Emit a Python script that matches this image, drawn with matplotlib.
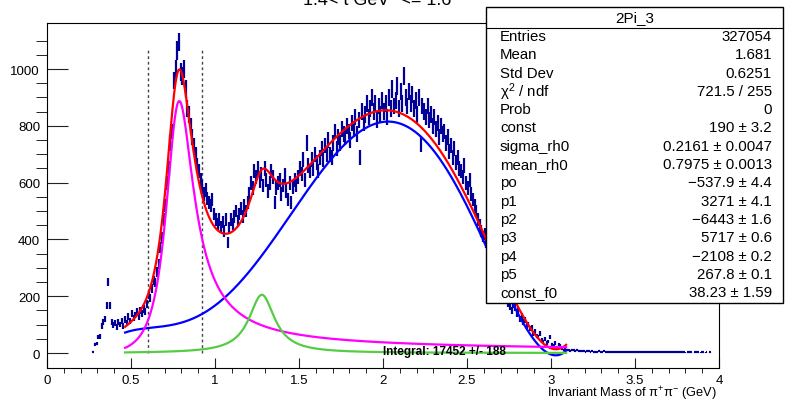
import numpy as np
import matplotlib
matplotlib.use("Agg")
import matplotlib.pyplot as plt
from matplotlib.patches import Rectangle
from matplotlib.lines import Line2D

plt.rcParams['font.family'] = ['Liberation Sans', 'DejaVu Sans']
plt.rcParams['mathtext.fontset'] = 'custom'
plt.rcParams['mathtext.rm'] = 'Liberation Sans'
plt.rcParams['mathtext.it'] = 'Liberation Sans:italic'

# pi+pi- invariant mass histogram, 0.01 GeV bins starting at 0.27 GeV
bin_lo = 0.27
bin_w = 0.01
counts = [
    5, 30, 33, 55, 58, 95, 110, 120, 168, 250,
    168, 110, 98, 105, 92, 108, 100, 112, 95, 118,
    105, 128, 112, 138, 122, 134, 145, 128, 150, 138,
    155, 145, 172, 205, 195, 228, 255, 248, 285, 315,
    372, 405, 470, 520, 600, 650, 740, 780, 960, 1000,
    1065, 1095, 990, 975, 1000, 930, 860, 840, 800, 760,
    730, 700, 660, 640, 610, 585, 560, 575, 545, 530,
    520, 540, 490, 470, 455, 470, 445, 460, 430, 470,
    390, 440, 470, 455, 480, 500, 465, 490, 510, 480,
    520, 500, 530, 560, 600, 580, 640, 620, 650, 605,
    630, 590, 650, 610, 570, 600, 640, 620, 530, 580,
    600, 610, 560, 590, 625, 570, 540, 600, 530, 585,
    610, 590, 620, 650, 630, 680, 610, 740, 660, 640,
    680, 650, 700, 670, 640, 690, 720, 680, 730, 700,
    750, 700, 690, 740, 780, 720, 760, 740, 790, 770,
    760, 800, 780, 750, 810, 790, 830, 770, 820, 690,
    850, 810, 840, 880, 830, 860, 900, 850, 880, 820,
    870, 840, 890, 850, 880, 830, 900, 860, 930, 870,
    890, 940, 860, 920, 880, 975, 900, 870, 920, 880,
    910, 860, 890, 840, 900, 735, 870, 850, 830, 870,
    820, 840, 800, 830, 790, 810, 760, 800, 770, 780,
    740, 760, 710, 730, 690, 720, 670, 690, 650, 640,
    620, 660, 600, 580, 610, 560, 540, 520, 500, 470,
    450, 430, 410, 420, 390, 370, 350, 340, 320, 300,
    285, 260, 250, 225, 210, 200, 185, 175, 165, 150,
    170, 160, 140, 150, 120, 130, 110, 115, 95, 100,
    85, 90, 70, 75, 60, 55, 70, 45, 40, 50,
    35, 40, 55, 30, 25, 35, 20, 30, 25, 15,
    12, 15, 10, 12, 8, 10, 9, 7, 10, 8,
    6, 8, 7, 5, 6, 7, 5, 6, 4, 5,
    5, 6, 4, 5, 6, 4, 5, 4, 5, 4,
    4, 5, 3, 4, 5, 3, 4, 3, 4, 3,
    3, 4, 3, 3, 4, 2, 3, 4, 3, 3,
    3, 2, 3, 3, 2, 3, 3, 2, 3, 2,
    3, 2, 2, 3, 2, 3, 2, 2, 3, 2,
    2, 3, 2, 0, 2, 3, 2, 0, 2, 3,
    2, 0, 3, 2, 0, 2, 0, 3, 0, 0,
]

# fit results (p4 kept within its printed rounding)
const_rho = 190.0
sigma_rh0 = 0.2161
mean_rh0 = 0.7975
poly = [-537.9, 3271.0, -6443.0, 5717.0, -2107.75, 267.8]
const_f0 = 38.23
mass_f0 = 1.2755
width_f0 = 0.1867
fit_lo, fit_hi = 0.465, 3.09
m_pi = 0.13957

stat_names = ["Entries", "Mean", "Std Dev", "χ$^{2}$ / ndf", "Prob", "const",
              "sigma_rh0", "mean_rh0", "po", "p1", "p2", "p3", "p4", "p5",
              "const_f0"]
stat_values = ["327054", "1.681", "0.6251", "721.5 / 255", "0",
               "190 ± 3.2", "0.2161 ± 0.0047", "0.7975 ± 0.0013",
               "\u2212537.9 ± 4.4", "3271 ± 4.1", "\u22126443 ± 1.6",
               "5717 ± 0.6", "\u22122108 ± 0.2", "267.8 ± 0.1",
               "38.23 ± 1.59"]
window = [0.6, 0.92]


def rho_bw(x):
    # p-wave relativistic Breit-Wigner with mass dependent width
    q = np.sqrt(x**2 / 4 - m_pi**2)
    q0 = np.sqrt(mean_rh0**2 / 4 - m_pi**2)
    g = sigma_rh0 * (q / q0)**3 * (mean_rh0 / x)
    return const_rho * x * mean_rh0 * g / ((x**2 - mean_rh0**2)**2 + mean_rh0**2 * g**2)


def f0_bw(x):
    g = width_f0
    return const_f0 * x * mass_f0 * g / ((x**2 - mass_f0**2)**2 + mass_f0**2 * g**2)


def background(x):
    return sum(c * x**i for i, c in enumerate(poly))


W, H = 785, 402
fig = plt.figure(figsize=(W / 100, H / 100), dpi=100)
ax = fig.add_axes([47 / W, 1 - 369 / H, 672 / W, 345 / H])

counts = np.array(counts, dtype=float)
centers = bin_lo + bin_w * (np.arange(len(counts)) + 0.5)
keep = counts > 0
ax.errorbar(centers[keep], counts[keep], yerr=np.sqrt(counts[keep]), xerr=bin_w / 2,
            fmt='none', ecolor='#000099', elinewidth=1.6, capsize=0, zorder=2)

xf = np.linspace(fit_lo, fit_hi, 800)
ax.plot(xf, rho_bw(xf) + background(xf) + f0_bw(xf), color='#ff0000', lw=1.6, zorder=3)
ax.plot(xf, background(xf), color='#0000ff', lw=1.6, zorder=4)
ax.plot(xf, rho_bw(xf), color='#ff00ff', lw=1.6, zorder=4)
ax.plot(xf, f0_bw(xf), color='#55cc44', lw=1.6, zorder=4)

for xv in window:
    ax.plot([xv, xv], [0, 1068], color='#444444', lw=1, ls=(0, (2, 2)), zorder=1)

ax.text(2.0, 8, "Integral: 17452 +/- 188", fontsize=8.5, fontweight='bold',
        ha='left', va='center', zorder=5)

ax.set_xlim(0, 4)
ax.set_ylim(-52.8, 1162)
ax.set_xticks(np.arange(0, 4.01, 0.5))
ax.set_xticklabels(["0", "0.5", "1", "1.5", "2", "2.5", "3", "3.5", "4"])
ax.set_xticks(np.arange(0, 4.01, 0.1), minor=True)
ax.set_yticks(np.arange(0, 1001, 200))
ax.set_yticks(np.arange(0, 1101, 50), minor=True)
ax.tick_params(axis='both', direction='in', labelsize=9.5, width=0.8, color='#222222')
ax.tick_params(axis='x', which='major', length=7, pad=4)
ax.tick_params(axis='x', which='minor', length=3.6)
ax.tick_params(axis='y', which='major', length=15, pad=5)
ax.tick_params(axis='y', which='minor', length=7.7)
for s in ax.spines.values():
    s.set_linewidth(0.8)

fig.text(717 / W, 1 - 397.5 / H, "Invariant Mass of π$^{+}$π$^{-}$ (GeV)",
         fontsize=9.3, ha='right', va='baseline')
fig.text(377 / W, 1 - 5 / H, "1.4< t GeV² <= 1.6", fontsize=13,
         ha='center', va='baseline')

# statistics box
bx0, bx1, by0, by1 = 486, 783, 8, 304
fig.add_artist(Rectangle((bx0 / W, 1 - by1 / H), (bx1 - bx0) / W, (by1 - by0) / H,
                         transform=fig.transFigure, fc='white', ec='black', lw=1, zorder=10))
fig.add_artist(Line2D([bx0 / W, bx1 / W], [1 - 29 / H, 1 - 29 / H],
                      transform=fig.transFigure, color='black', lw=0.8, zorder=11))
fig.text((bx0 + bx1) / 2 / W, 1 - 18.5 / H, "2Pi_3", fontsize=11,
         ha='center', va='center', zorder=12)
for i, (name, val) in enumerate(zip(stat_names, stat_values)):
    y = 1 - (37 + 18.3 * i) / H
    fig.text(500 / W, y, name, fontsize=10.8, ha='left', va='center', zorder=12)
    fig.text(772 / W, y, val, fontsize=10.8, ha='right', va='center', zorder=12)

fig.savefig("out.png", dpi=100)
